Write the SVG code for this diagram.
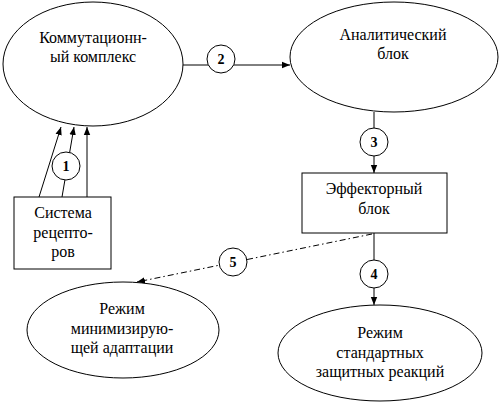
<svg xmlns="http://www.w3.org/2000/svg" width="501" height="406" viewBox="0 0 501 406">
<style>
.sh{fill:#fff;stroke:#000;stroke-width:1}
.t{font-family:"Liberation Serif","Times New Roman","DejaVu Serif",serif;font-size:16px;text-anchor:middle;fill:#000}
.n{font-family:"Liberation Serif","Times New Roman","DejaVu Serif",serif;font-size:14px;font-weight:bold;text-anchor:middle;fill:#000}
.ln{stroke:#000;stroke-width:1;fill:none}
.dd{stroke:#000;stroke-width:1;fill:none;stroke-dasharray:6 3 1.5 3}
</style>
<defs>
<marker id="ah" viewBox="0 0 10 10" refX="10" refY="5" markerWidth="8" markerHeight="8" markerUnits="userSpaceOnUse" orient="auto">
<path d="M0,1 L10,5 L0,9 Z" fill="#000"/>
</marker>
</defs>
<rect width="501" height="406" fill="#fff"/>
<g id="connectors">
<line class="ln" x1="183" y1="65" x2="290" y2="65" marker-end="url(#ah)"/>
<line class="ln" x1="374" y1="112" x2="374" y2="173" marker-end="url(#ah)"/>
<line class="ln" x1="374" y1="233" x2="374" y2="305" marker-end="url(#ah)"/>
<line class="dd" x1="372" y1="234" x2="137" y2="282" marker-end="url(#ah)"/>
<line class="ln" x1="39" y1="197" x2="61" y2="127" marker-end="url(#ah)"/>
<line class="ln" x1="62" y1="197" x2="74" y2="127" marker-end="url(#ah)"/>
<line class="ln" x1="87" y1="197" x2="87" y2="127" marker-end="url(#ah)"/>
</g>
<g id="label1"><circle class="sh" cx="66" cy="166" r="14"/><text class="n" x="66" y="171">1</text></g>
<g id="label2"><circle class="sh" cx="221" cy="59" r="14"/><text class="n" x="221" y="64">2</text></g>
<g id="label3"><circle class="sh" cx="374" cy="142" r="14"/><text class="n" x="374" y="147">3</text></g>
<g id="label4"><circle class="sh" cx="374" cy="274" r="14"/><text class="n" x="374" y="279">4</text></g>
<g id="label5"><circle class="sh" cx="233" cy="262" r="14"/><text class="n" x="233" y="267">5</text></g>
<g id="kommut"><ellipse class="sh" cx="93" cy="64" rx="90" ry="62"/>
<text class="t" x="93" y="43">Коммутационн-</text><text class="t" x="93" y="62">ый комплекс</text></g>
<g id="analit"><ellipse class="sh" cx="394" cy="57" rx="104" ry="55"/>
<text class="t" x="393" y="40">Аналитический</text><text class="t" x="393" y="59">блок</text></g>
<g id="effector"><rect class="sh" x="302" y="173" width="145" height="60"/>
<text class="t" x="374" y="194">Эффекторный</text><text class="t" x="374" y="214">блок</text></g>
<g id="sistema"><rect class="sh" x="14" y="197" width="97" height="72"/>
<text class="t" x="63" y="218">Система</text><text class="t" x="63" y="238">рецепто-</text><text class="t" x="63" y="257">ров</text></g>
<g id="minim"><ellipse class="sh" cx="123" cy="330" rx="96" ry="48"/>
<text class="t" x="122" y="314">Режим</text><text class="t" x="122" y="334">минимизирую-</text><text class="t" x="122" y="353">щей адаптации</text></g>
<g id="standart"><ellipse class="sh" cx="380" cy="353" rx="102" ry="48"/>
<text class="t" x="380" y="338">Режим</text><text class="t" x="380" y="358">стандартных</text><text class="t" x="380" y="377">защитных реакций</text></g>
</svg>
